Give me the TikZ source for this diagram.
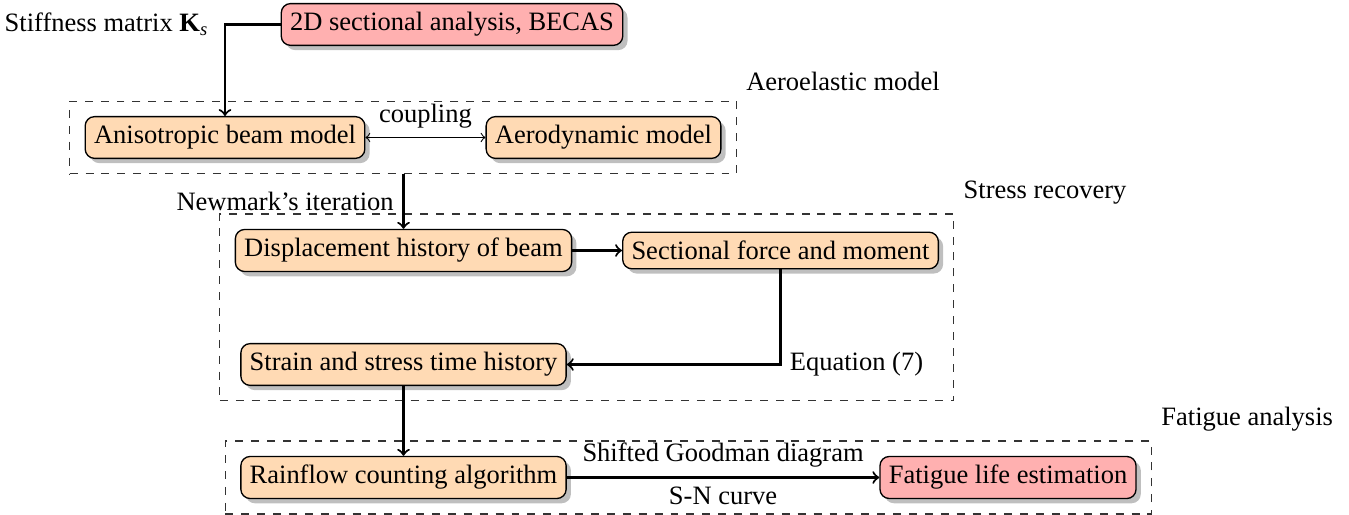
\documentclass[tikz,border=0pt]{standalone}
\usepackage{fontspec}
\setmainfont{Liberation Serif}
\usetikzlibrary{shadows,fit}
\definecolor{boxorange}{RGB}{255,218,180}
\definecolor{boxred}{RGB}{255,176,176}
\begin{document}
\begin{tikzpicture}[x=0.3774pt,y=-0.3774pt,
  font=\fontsize{10}{12}\selectfont,
  proc/.style={draw=black, line width=0.5pt, rounded corners=3.5pt, fill=boxorange,
    inner sep=0.3333em,
    drop shadow={shadow xshift=1.8pt, shadow yshift=-1.8pt}},
  procred/.style={proc, fill=boxred},
  group/.style={draw=black!80, dashed, line width=0.4pt, inner sep=5.6pt, rectangle},
  grouplbl/.style={anchor=south west},
  arr/.style={->, thick},
  thinarr/.style={<->, line width=0.4pt}]
\useasboundingbox (0,0) rectangle (1349,515);

\node[procred] (becas) at (452,24.5) {2D sectional analysis, BECAS};
\node[proc] (aniso) at (225,137.5) {Anisotropic beam model};
\node[proc] (aero) at (603.5,137.5) {Aerodynamic model};
\node[group, fit=(aniso)(aero)] (aeroel) {};
\node[grouplbl] (aeroellbl) at (aeroel.north east) {Aeroelastic model};

\node[proc] (disp) at (403.5,250.5) {Displacement history of beam};
\node[proc] (sect) at (780.5,250.5) {Sectional force and moment};
\node[proc] (strain) at (403.5,364.5) {Strain and stress time history};
\node[group, fit=(disp)(sect)(strain)] (stress) {};
\node[grouplbl] (stresslbl) at (stress.north east) {Stress recovery};

\node[proc] (rain) at (403.5,477.5) {Rainflow counting algorithm};
\node[procred] (life) at (1008,477.5) {Fatigue life estimation};
\node[group, fit=(rain)(life)] (fatigue) {};
\node[grouplbl] (fatiguelbl) at (fatigue.north east) {Fatigue analysis};

\coordinate (kcorner) at (becas.west -| aniso.north);
\node[anchor=east, inner sep=6pt] (stiff) at (kcorner) {Stiffness matrix \textbf{K}\textsubscript{\textit{s}}};
\draw[arr] (becas.west) -- (kcorner) -- (aniso.north);

\draw[thinarr] (aniso.east) -- node[above] (couplbl) {coupling} (aero.west);

\coordinate (aeroout) at (aeroel.south -| disp.north);
\draw[arr] (aeroout) -- node[left] (newmark) {Newmark's iteration} (disp.north);

\draw[arr] (disp.east) -- (sect.west);
\coordinate (eqcorner) at (sect.south |- strain.east);
\draw[arr] (sect.south) -- (eqcorner) -- (strain.east);
\node[anchor=west] (eqlbl) at (eqcorner) {Equation (7)};

\draw[arr] (strain.south) -- (rain.north);
\draw[arr] (rain.east) -- node[above] (goodman) {Shifted Goodman diagram}
  node[below] (sn) {S-N curve} (life.west);
\end{tikzpicture}
\end{document}
